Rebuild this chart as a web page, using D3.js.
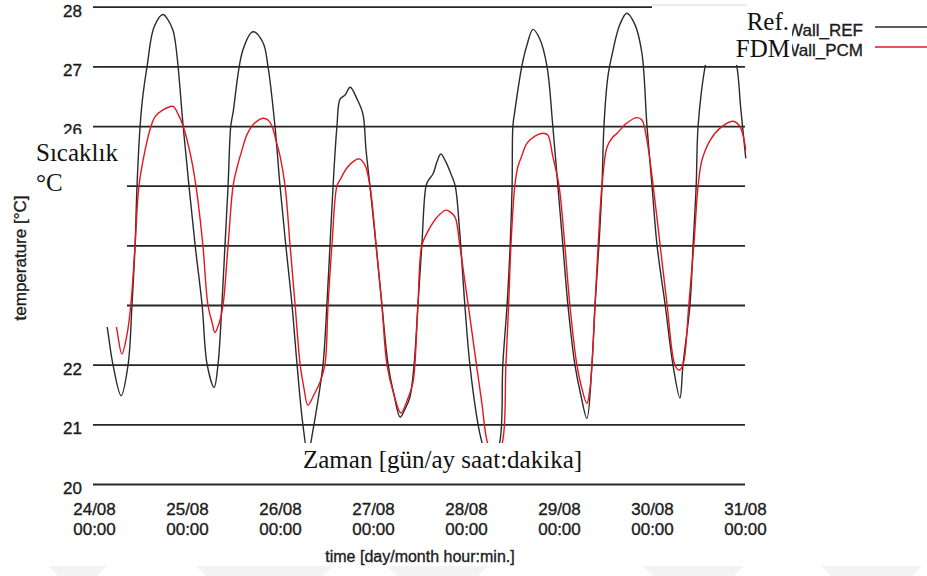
<!DOCTYPE html>
<html>
<head>
  <meta charset="utf-8">
  <title>Wall temperature</title>
  <script src="https://d3js.org/d3.v7.min.js"></script>
  <style>
    body { margin: 0; background: #fff; }
    svg { display: block; }
    .tick text, .axis-title, .legend text { font-family: "Liberation Sans", Arial, sans-serif; fill: #1c1c1c; stroke: #1c1c1c; stroke-width: 0.35px; }
    .overlay-text { font-family: "Liberation Serif", "Times New Roman", serif; fill: #111; font-size: 25px; }
  </style>
</head>
<body>
<svg width="927" height="576"></svg>
<script>
// hours since 24/08 00:00
const refHours = [0, 3.4, 4.9, 7.0, 8.8, 9.8, 10.6, 11.1, 11.9, 12.6, 13.7, 15.5, 17.8, 19.1, 20.4, 21.0, 21.7,
  23.0, 24.5, 26.1, 27.9, 29.2, 31.0, 32.0, 33.0, 33.8, 34.6, 35.3, 35.9, 38.4, 41.0, 43.6, 44.9,
  46.7, 48.0, 49.5, 51.1, 52.4, 53.9, 55.2, 56.5, 57.3, 59.1, 60.1, 60.9, 61.7, 62.7, 63.5, 64.8, 66.1, 67.9, 69.4,
  70.2, 71.2, 72.8, 74.3, 75.9, 77.4, 79.0, 80.2, 81.5, 82.6, 83.6, 84.6, 85.7, 86.4, 87.5, 88.5, 89.5, 90.8, 92.1, 93.2,
  94.4, 95.7, 97.0, 99.1, 100.1, 102.4, 104.8, 105.5, 106.6, 107.4, 107.9, 108.1, 108.6, 110.4, 111.7, 113.3, 115.1, 116.9,
  118.4, 119.7, 121.0, 122.3, 124.1, 125.6, 127.2, 128.5, 129.3, 130.3, 131.1, 131.6, 132.6, 133.7, 135.7, 137.5, 139.6, 141.4,
  142.7, 144.0, 145.3, 147.4, 149.4, 151.2, 152.0, 153.8, 154.6, 155.4, 155.9, 157.7, 159.5, 161.5, 163.6, 165.9, 166.9, 168.2];
const refTemp = [23.9, 22.63, 22.0, 21.48, 22.0, 23.0, 24.0, 25.0, 26.0, 26.5, 27.0, 27.66, 27.87, 27.78, 27.6, 27.4, 27.0,
  26.0, 25.0, 24.0, 23.0, 22.0, 21.62, 22.0, 23.0, 24.0, 25.0, 26.0, 26.23, 27.27, 27.58, 27.4, 27.0,
  26.0, 25.0, 24.0, 23.0, 22.0, 21.0, 20.5, 20.9, 21.2, 22.0, 23.0, 24.0, 25.0, 26.0, 26.45, 26.52, 26.65, 26.45, 26.2,
  25.6, 25.0, 24.0, 23.0, 22.0, 21.5, 21.12, 21.25, 21.45, 22.0, 23.0, 24.0, 25.0, 25.1, 25.2, 25.4, 25.53, 25.4, 25.2, 25.0,
  24.2, 23.0, 22.0, 21.0, 20.7, 20.2, 20.73, 22.0, 23.0, 24.0, 25.0, 26.0, 26.25, 27.0, 27.35, 27.62, 27.45, 27.0,
  26.0, 25.0, 24.0, 23.0, 22.0, 21.5, 21.1, 22.0, 23.0, 24.0, 25.0, 26.0, 26.82, 27.2, 27.7, 27.89, 27.7, 27.22,
  26.0, 25.0, 24.0, 23.0, 22.0, 21.44, 22.0, 23.0, 24.0, 25.0, 26.0, 27.0, 27.5, 27.75, 27.6, 27.0, 26.3, 25.46];

const pcmHours = [0, 4.1, 5.7, 7.2, 8.5, 9.5, 10.6, 11.6, 13.2, 14.5, 15.7, 17.8, 20.4, 21.7, 23.0, 24.8, 26.3, 28.1,
  29.4, 30.5, 31.2, 32.3, 33.3, 34.6, 35.9, 36.9, 38.2, 39.5, 41.5, 43.6, 44.9, 45.9, 47.0, 48.0, 49.3, 50.6, 51.9,
  53.2, 54.2, 55.2, 56.8, 58.3, 59.6, 60.4, 61.4, 62.7, 63.5, 65.3, 66.8, 68.4, 69.9, 71.2, 72.8, 74.3, 75.6, 77.4,
  79.2, 80.8, 82.3, 82.8, 83.6, 84.6, 85.9, 87.2, 88.5, 90.8, 92.1, 93.2, 94.4, 95.7, 97.0, 98.8, 100.1, 101.4, 103.5,
  105.5, 106.3, 107.0, 107.6, 108.6, 109.4, 110.4, 111.7, 113.8, 115.9, 117.1, 118.4, 120.0, 121.5, 122.8, 124.6, 125.9,
  127.2, 128.0, 128.5, 129.3, 130.1, 131.1, 132.4, 133.7, 135.0, 137.5, 140.1, 141.4, 142.7, 144.3, 146.1, 147.9, 149.9,
  151.0, 152.0, 153.5, 154.8, 155.9, 156.9, 159.0, 161.5, 164.9, 166.7, 168.2];
const pcmTemp = [24.0, 23.1, 22.66, 22.18, 22.5, 23.0, 24.0, 25.0, 25.6, 25.95, 26.15, 26.27, 26.33, 26.2, 26.0, 25.55, 25.0, 24.0,
  23.0, 22.7, 22.54, 22.7, 23.0, 24.0, 25.0, 25.3, 25.6, 25.86, 26.05, 26.13, 26.1, 26.0, 25.75, 25.5, 25.0, 24.0, 23.0,
  22.0, 21.6, 21.32, 21.5, 21.7, 22.0, 23.0, 24.0, 25.0, 25.1, 25.3, 25.4, 25.45, 25.35, 25.0, 24.0, 23.0, 22.0, 21.5,
  21.19, 21.4, 21.7, 22.0, 23.0, 24.0, 24.2, 24.35, 24.47, 24.59, 24.55, 24.47, 24.0, 23.4, 22.8, 21.95, 21.35, 20.73, 20.35,
  20.73, 22.0, 23.0, 24.0, 25.0, 25.32, 25.5, 25.71, 25.83, 25.88, 25.85, 25.49, 25.0, 24.0, 23.0, 22.0, 21.6,
  21.35, 21.6, 22.0, 23.0, 24.0, 25.0, 25.65, 25.8, 25.88, 26.05, 26.14, 26.1, 25.76, 25.0, 24.0, 23.0, 22.0,
  21.91, 22.0, 23.0, 24.0, 25.0, 25.43, 25.76, 25.96, 26.08, 25.99, 25.6];

const yTicks = [20, 21, 22, 23, 24, 25, 26, 27, 28];
const xTicks = [0, 24, 48, 72, 96, 120, 144, 168];
const dayLabels = ["24/08", "25/08", "26/08", "27/08", "28/08", "29/08", "30/08", "31/08"];
const hourLabel = "00:00";
const seriesNames = ["Wall_REF", "Wall_PCM"];
const seriesColors = ["#2b2b2b", "#e5161e"];

const svg = d3.select("svg");
const x = d3.scaleLinear().domain([0, 168]).range([94, 745]);
const y = d3.scaleLinear().domain([20, 28]).range([484, 6.7]);

// horizontal grid + y labels
const yAxis = svg.append("g")
  .attr("transform", "translate(93,0)")
  .call(d3.axisLeft(y).tickValues(yTicks).tickSize(-652).tickPadding(11).tickFormat(d3.format("d")));
yAxis.select(".domain").remove();
yAxis.selectAll(".tick line").attr("stroke", "#262626").attr("stroke-width", 1.8);
yAxis.selectAll(".tick text").attr("font-size", 17).attr("dy", "0.56em");

// x labels
const xAxis = svg.append("g")
  .attr("transform", "translate(0,497)")
  .call(d3.axisBottom(x).tickValues(xTicks).tickSize(0).tickFormat(""));
xAxis.select(".domain").remove();
xAxis.selectAll(".tick").each(function (d, i) {
  const t = d3.select(this).append("text").attr("font-size", 17).attr("text-anchor", "middle");
  t.append("tspan").attr("x", 0).attr("y", 18).text(dayLabels[i]);
  t.append("tspan").attr("x", 0).attr("y", 38).text(hourLabel);
});

// curves
const line = d3.line().x(d => x(d[0])).y(d => y(d[1])).curve(d3.curveCatmullRom.alpha(0.5));
const series = [d3.zip(refHours, refTemp), d3.zip(pcmHours, pcmTemp)];
svg.append("g").selectAll("path")
  .data(series)
  .join("path")
  .attr("d", line)
  .attr("fill", "none")
  .attr("stroke", (d, i) => seriesColors[i])
  .attr("stroke-width", 1.4);

// axis titles
svg.append("text").attr("class", "axis-title")
  .attr("x", 420).attr("y", 562).attr("text-anchor", "middle").attr("font-size", 16)
  .text("time [day/month hour:min.]");
svg.append("text").attr("class", "axis-title")
  .attr("transform", "translate(26,258) rotate(-90)").attr("text-anchor", "middle").attr("font-size", 17)
  .text("temperature [°C]");

// legend
const legend = svg.append("g").attr("class", "legend");
seriesNames.forEach((name, i) => {
  legend.append("text").attr("x", 863).attr("y", 36 + i * 20).attr("text-anchor", "end")
    .attr("font-size", 17).text(name);
  legend.append("line").attr("x1", 875).attr("x2", 927)
    .attr("y1", 27 + i * 20).attr("y2", 27 + i * 20)
    .attr("stroke", seriesColors[i]).attr("stroke-width", 1.4);
});

// pasted translation patches
const patches = svg.append("g");
patches.append("rect").attr("x", 31).attr("y", 134).attr("width", 96).attr("height", 193).attr("fill", "#fff");
patches.append("rect").attr("x", 652).attr("y", 0).attr("width", 140).attr("height", 65).attr("fill", "#fff");
patches.append("rect").attr("x", 299).attr("y", 443).attr("width", 302).attr("height", 38).attr("fill", "#fff");
patches.append("line").attr("x1", 652).attr("x2", 747).attr("y1", 5).attr("y2", 5)
  .attr("stroke", "#d4d4d4").attr("stroke-width", 1);

patches.append("text").attr("class", "overlay-text").attr("x", 36).attr("y", 161).text("Sıcaklık");
patches.append("text").attr("class", "overlay-text").attr("x", 36).attr("y", 191).text("°C");
patches.append("text").attr("class", "overlay-text").attr("x", 789).attr("y", 30).attr("text-anchor", "end").text("Ref.");
patches.append("text").attr("class", "overlay-text").attr("x", 790).attr("y", 57).attr("text-anchor", "end").text("FDM");
patches.append("text").attr("class", "overlay-text").attr("x", 303).attr("y", 468).text("Zaman [gün/ay saat:dakika]");

// faint watermark strip at the bottom
const marks = [[48, 107], [196, 333], [387, 488], [643, 744], [821, 922]];
svg.append("g").selectAll("path")
  .data(marks)
  .join("path")
  .attr("d", d => `M${d[0]},566 L${d[1]},566 L${d[1] - 10},576 L${d[0] + 10},576 Z`)
  .attr("fill", "#f3f3f3");
</script>
</body>
</html>
